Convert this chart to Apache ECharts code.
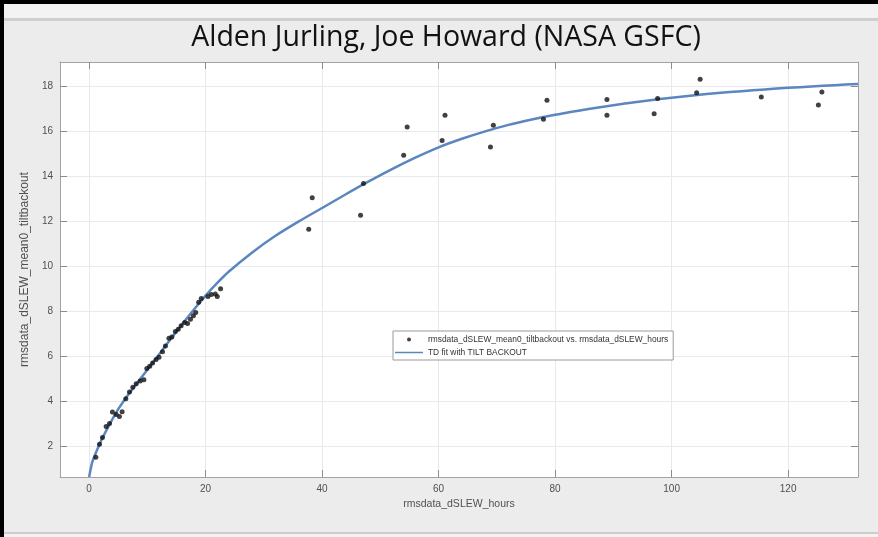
<!DOCTYPE html>
<html>
<head>
<meta charset="utf-8">
<script src="https://cdn.jsdelivr.net/npm/echarts@6/dist/echarts.min.js"></script>
<style>
  html, body { margin: 0; padding: 0; background: #ececec; }
  #chart { width: 878px; height: 537px; }
</style>
</head>
<body>
<div id="chart"></div>
<script>
// Measured tilt (backout removed) against slew hours
const hours = [
  1.15, 1.78, 2.29, 2.92, 3.5, 4.0, 4.64, 5.2, 5.67, 6.3, 6.93, 7.5, 8.08, 8.77,
  9.4, 9.9, 10.4, 10.9, 11.5, 12.0, 12.6, 13.1, 13.7, 14.2, 14.8, 15.3, 15.8, 16.4,
  16.9, 17.4, 17.9, 18.3, 18.8, 19.25, 20.4, 20.97, 21.66, 22.0, 22.57,
  37.7, 38.3, 46.6, 47.1, 54.0, 54.6, 60.6, 61.1, 68.9, 69.4, 78.0, 78.6,
  88.9, 88.9, 97.0, 97.6, 104.3, 104.9, 115.4, 125.2, 125.8
];
const tilt = [
  1.50, 2.08, 2.38, 2.87, 3.0, 3.52, 3.40, 3.31, 3.53, 4.1, 4.41, 4.62, 4.77, 4.9,
  4.95, 5.45, 5.55, 5.7, 5.85, 5.95, 6.2, 6.45, 6.8, 6.85, 7.1, 7.2, 7.35, 7.5,
  7.45, 7.65, 7.8, 7.95, 8.4, 8.57, 8.66, 8.75, 8.77, 8.66, 9.0,
  11.65, 13.06, 12.28, 13.69, 14.95, 16.2, 15.6, 16.73, 15.32, 16.28, 16.55, 17.4,
  16.73, 17.43, 16.8, 17.48, 17.73, 18.33, 17.54, 17.18, 17.76
];

// TD fit curve with tilt backout
const fitHours = [
  0, 0.5, 1, 2, 3, 4, 5, 6, 7, 8, 9, 10, 12, 14, 16, 18, 20, 22, 24, 28, 32, 36,
  40, 44, 48, 52, 56, 60, 64, 68, 72, 76, 80, 84, 88, 92, 96, 100, 104, 108, 112,
  116, 120, 124, 128, 132
];
const fitTilt = [
  0.62, 1.25, 1.6, 2.2, 2.72, 3.2, 3.64, 4.03, 4.38, 4.72, 5.06, 5.4, 6.08, 6.76, 7.43, 8.08, 8.7, 9.26, 9.77, 10.62, 11.36, 12.0,
  12.6, 13.2, 13.78, 14.33, 14.84, 15.3, 15.68, 16.01, 16.3, 16.54, 16.75, 16.93, 17.1, 17.25, 17.39, 17.51, 17.62, 17.72, 17.8,
  17.88, 17.95, 18.01, 18.07, 18.12
];

const xTicks = [0, 20, 40, 60, 80, 100, 120];
const yTicks = [2, 4, 6, 8, 10, 12, 14, 16, 18];

const titleText = 'Alden Jurling, Joe Howard (NASA GSFC)';
const xName = 'rmsdata_dSLEW_hours';
const yName = 'rmsdata_dSLEW_mean0_tiltbackout';
const scatterName = 'rmsdata_dSLEW_mean0_tiltbackout vs. rmsdata_dSLEW_hours';
const fitName = 'TD fit with TILT BACKOUT';

const axisFont = '"Liberation Sans", Arial, sans-serif';
const frameColor = '#a4a4a4';
const tickColor = '#8c8c8c';
const labelColor = '#505050';
const fitColor = '#5b86c0';

const points = hours.map((h, i) => [h, tilt[i]]);
const fit = fitHours.map((h, i) => [h, fitTilt[i]]);

function xAxisBase(pos) {
  return {
    type: 'value', min: -5, max: 132, position: pos,
    axisLine: { show: true, onZero: false, lineStyle: { color: frameColor, width: 1 } },
    axisTick: { show: true, inside: true, length: 7, customValues: xTicks, lineStyle: { color: tickColor } },
    axisLabel: { show: pos === 'bottom', customValues: xTicks, margin: 7,
      fontFamily: axisFont, fontSize: 10, color: labelColor },
    splitLine: { show: pos === 'bottom', lineStyle: { color: '#e9e9e9', width: 1 } }
  };
}
function yAxisBase(pos) {
  return {
    type: 'value', min: 0.62, max: 19.1, position: pos,
    axisLine: { show: true, onZero: false, lineStyle: { color: frameColor, width: 1 } },
    axisTick: { show: true, inside: true, length: 7, customValues: yTicks, lineStyle: { color: tickColor } },
    axisLabel: { show: pos === 'left', customValues: yTicks, margin: 7,
      fontFamily: axisFont, fontSize: 10, color: labelColor },
    splitLine: { show: pos === 'left', lineStyle: { color: '#e9e9e9', width: 1 } }
  };
}

const chart = echarts.init(document.getElementById('chart'), null, { renderer: 'canvas' });

const xBottom = Object.assign(xAxisBase('bottom'), {
  name: xName, nameLocation: 'middle', nameGap: 22,
  nameTextStyle: { fontFamily: axisFont, fontSize: 10.5, color: labelColor }
});
const yLeft = Object.assign(yAxisBase('left'), {
  name: yName, nameLocation: 'middle', nameGap: 19, nameRotate: 90,
  nameTextStyle: { fontFamily: axisFont, fontSize: 12, color: labelColor }
});

chart.setOption({
  animation: false,
  backgroundColor: '#ececec',
  graphic: [
    { type: 'rect', z: -1, shape: { x: 0, y: 0, width: 878, height: 4 }, style: { fill: '#000' } },
    { type: 'rect', z: -1, shape: { x: 0, y: 4, width: 878, height: 14 }, style: { fill: '#f3f3f3' } },
    { type: 'rect', z: -1, shape: { x: 0, y: 18, width: 878, height: 3 }, style: { fill: '#cfcfcf' } },
    { type: 'rect', z: -1, shape: { x: 0, y: 532, width: 878, height: 2 }, style: { fill: '#cdcdcd' } },
    { type: 'rect', z: -1, shape: { x: 0, y: 534, width: 878, height: 3 }, style: { fill: '#f3f3f3' } },
    { type: 'rect', z: -1, shape: { x: 0, y: 0, width: 4, height: 537 }, style: { fill: '#000' } }
  ],
  title: {
    text: titleText, left: 441, textAlign: 'center', top: 18,
    textStyle: { fontFamily: '"Open Sans", Lato, sans-serif', fontSize: 28.5, fontWeight: 'normal', color: '#111' }
  },
  grid: { left: 60, right: 20, top: 62, bottom: 60, show: true, backgroundColor: '#ffffff', borderWidth: 0 },
  xAxis: [xBottom, xAxisBase('top')],
  yAxis: [yLeft, yAxisBase('right')],
  legend: {
    orient: 'vertical', left: 393, top: 331,
    padding: [3, 5, 2, 2], itemGap: 2, itemWidth: 28, itemHeight: 4,
    backgroundColor: '#ffffff', borderColor: '#9a9a9a', borderWidth: 1, borderRadius: 0,
    textStyle: { fontFamily: axisFont, fontSize: 8.4, color: '#333', lineHeight: 11 },
    data: [
      { name: scatterName, icon: 'circle' },
      { name: fitName, icon: 'path://M0,0H28V1.5H0Z', itemStyle: { color: fitColor } }
    ]
  },
  series: [
    {
      name: fitName, type: 'line', data: fit, xAxisIndex: 0, yAxisIndex: 0,
      showSymbol: false, symbol: 'none', smooth: 0.25, clip: true,
      lineStyle: { color: fitColor, width: 2.5 }, itemStyle: { color: fitColor }, z: 2
    },
    {
      name: scatterName, type: 'scatter', data: points, xAxisIndex: 0, yAxisIndex: 0,
      symbol: 'circle', symbolSize: 5, itemStyle: { color: '#111111' }, z: 3
    }
  ]
});
</script>
</body>
</html>
